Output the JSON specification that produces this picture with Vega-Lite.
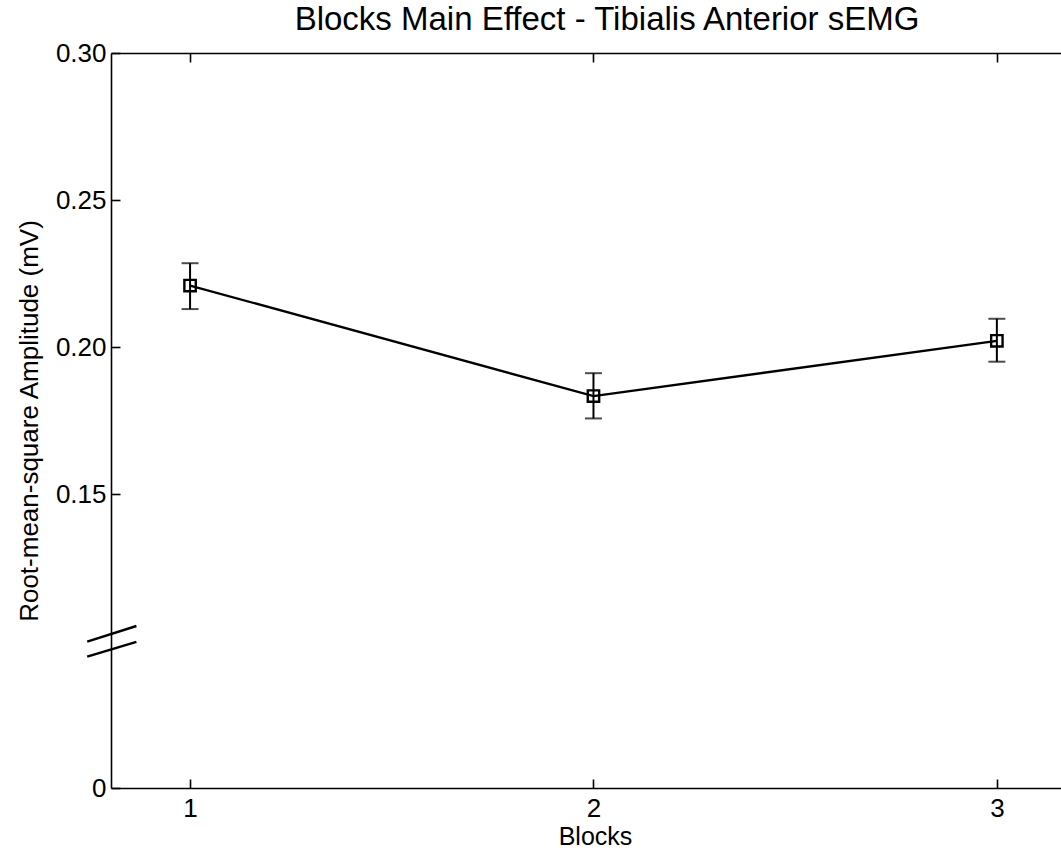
{
  "$schema": "https://vega.github.io/schema/vega-lite/v6.json",
  "width": 950,
  "height": 735,
  "autosize": {"type": "none"},
  "padding": {"left": 111, "top": 53, "right": 0, "bottom": 64},
  "background": "white",
  "title": {
    "text": "Blocks Main Effect - Tibialis Anterior sEMG",
    "font": "Liberation Sans",
    "fontSize": 33,
    "fontWeight": "normal",
    "color": "black",
    "anchor": "middle",
    "frame": "group",
    "baseline": "alphabetic",
    "dx": 21,
    "offset": -23
  },
  "config": {
    "view": {"stroke": null},
    "axis": {
      "grid": false,
      "domainColor": "black",
      "tickColor": "black",
      "labelColor": "black",
      "titleColor": "black",
      "labelFont": "Liberation Sans",
      "titleFont": "Liberation Sans",
      "titleFontWeight": "normal",
      "domainWidth": 1.6,
      "tickWidth": 1.6
    }
  },
  "datasets": {
    "main": [
      {"block": 1, "mean": 0.2209, "lo": 0.2129, "hi": 0.2285},
      {"block": 2, "mean": 0.1833, "lo": 0.1757, "hi": 0.1911},
      {"block": 3, "mean": 0.2021, "lo": 0.1950, "hi": 0.2096}
    ],
    "breaks": [
      {"bx": 0.745, "bx2": 0.867, "by": 0.0998, "by2": 0.1051},
      {"bx": 0.745, "bx2": 0.867, "by": 0.0947, "by2": 0.0997}
    ]
  },
  "resolve": {"axis": {"x": "independent"}},
  "layer": [
    {
      "data": {"name": "main"},
      "mark": {"type": "line", "color": "black", "strokeWidth": 2.4},
      "encoding": {
        "x": {
          "field": "block", "type": "quantitative",
          "scale": {"domain": [0.804, 3.159], "nice": false, "zero": false},
          "axis": {
            "orient": "bottom", "values": [1, 2, 3], "format": "d",
            "tickSize": -9, "labelPadding": 16, "labelFontSize": 26,
            "title": "Blocks", "titleFontSize": 25, "titlePadding": 3, "titleX": 484
          }
        },
        "y": {
          "field": "mean", "type": "quantitative",
          "scale": {"domain": [0.05, 0.30], "nice": false, "zero": false},
          "title": "Root-mean-square Amplitude (mV)",
          "axis": {
            "orient": "left", "values": [0.05, 0.15, 0.2, 0.25, 0.3],
            "labelExpr": "datum.value < 0.06 ? '0' : format(datum.value, '.2f')",
            "tickSize": -9, "labelPadding": 14, "labelFontSize": 26,
            "titleFontSize": 26, "titlePadding": 13
          }
        }
      }
    },
    {
      "data": {"name": "main"},
      "mark": {"type": "rule", "color": "black", "strokeWidth": 2},
      "encoding": {
        "x": {"field": "block", "type": "quantitative", "axis": null},
        "y": {"field": "lo", "type": "quantitative", "title": "Root-mean-square Amplitude (mV)"},
        "y2": {"field": "hi"}
      }
    },
    {
      "data": {"name": "main"},
      "mark": {"type": "tick", "orient": "horizontal", "color": "black", "size": 17, "thickness": 2},
      "encoding": {
        "x": {"field": "block", "type": "quantitative", "axis": null},
        "y": {"field": "lo", "type": "quantitative", "title": "Root-mean-square Amplitude (mV)"}
      }
    },
    {
      "data": {"name": "main"},
      "mark": {"type": "tick", "orient": "horizontal", "color": "black", "size": 17, "thickness": 2},
      "encoding": {
        "x": {"field": "block", "type": "quantitative", "axis": null},
        "y": {"field": "hi", "type": "quantitative", "title": "Root-mean-square Amplitude (mV)"}
      }
    },
    {
      "data": {"name": "main"},
      "mark": {"type": "point", "shape": "square", "filled": false, "stroke": "black", "strokeWidth": 2.4, "size": 130, "opacity": 1},
      "encoding": {
        "x": {
          "field": "block", "type": "quantitative",
          "axis": {"orient": "top", "values": [1, 2, 3], "labels": false, "tickSize": -9, "title": null}
        },
        "y": {"field": "mean", "type": "quantitative", "title": "Root-mean-square Amplitude (mV)"}
      }
    },
    {
      "data": {"name": "breaks"},
      "mark": {"type": "rule", "color": "black", "strokeWidth": 2.5},
      "encoding": {
        "x": {"field": "bx", "type": "quantitative", "axis": null},
        "x2": {"field": "bx2"},
        "y": {"field": "by", "type": "quantitative", "title": "Root-mean-square Amplitude (mV)"},
        "y2": {"field": "by2"}
      }
    }
  ]
}
